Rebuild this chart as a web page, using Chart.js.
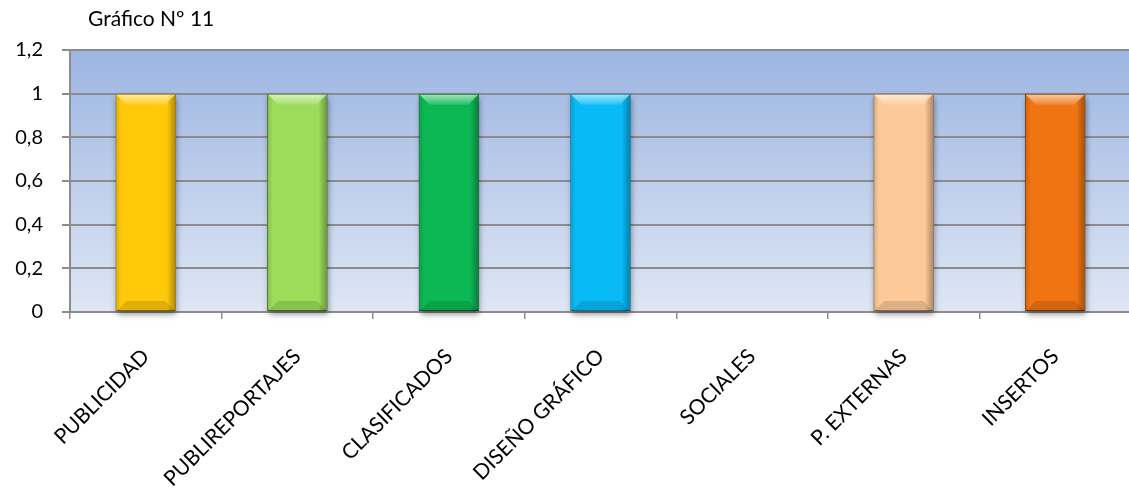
<!DOCTYPE html>
<html>
<head>
<meta charset="utf-8">
<script src="https://cdn.jsdelivr.net/npm/chart.js@4.4.1/dist/chart.umd.min.js"></script>
<style>
  html, body { margin: 0; padding: 0; background: #ffffff; overflow: hidden; }
  #wrap { position: absolute; left: 0; top: 0; width: 1131px; height: 497px; }
</style>
</head>
<body>
<div id="wrap"><canvas id="c"></canvas></div>
<script>
const chartTitle = 'Gráfico Nº 11';
const categories = ['PUBLICIDAD', 'PUBLIREPORTAJES', 'CLASIFICADOS', 'DISEÑO GRÁFICO', 'SOCIALES', 'P. EXTERNAS', 'INSERTOS'];
const values = [1, 1, 1, 1, 0, 1, 1];
const yMin = 0, yMax = 1.2, yStep = 0.2;

const barFill   = ['#FFC90A', '#9CDC5A', '#0CB853', '#08BBF7', '#8064A2', '#FDC998', '#F07412'];
const barBorder = ['#A07A00', '#4E7A2A', '#06602A', '#0680AE', '#4F3C66', '#9A7A60', '#7A3A06'];
const FONT = 'Lato, "Liberation Sans", sans-serif';

const bgPlugin = {
  id: 'bgPlugin',
  beforeDraw(chart) {
    const { ctx, chartArea: a } = chart;
    const g = ctx.createLinearGradient(0, a.top, 0, a.bottom);
    g.addColorStop(0, '#9CB5E2');
    g.addColorStop(1, '#DFE6F4');
    ctx.save();
    ctx.fillStyle = g;
    ctx.fillRect(a.left, a.top, a.right - a.left, a.bottom - a.top);
    ctx.restore();
  }
};

const shadowPlugin = {
  id: 'shadowPlugin',
  beforeDatasetsDraw(chart) {
    const { ctx } = chart;
    const meta = chart.getDatasetMeta(0);
    ctx.save();
    meta.data.forEach(el => {
      const h = el.base - el.y;
      if (h < 1) return;
      const l = el.x - el.width / 2;
      ctx.shadowColor = 'rgba(0,0,0,0.45)';
      ctx.shadowBlur = 6;
      ctx.shadowOffsetX = 1;
      ctx.shadowOffsetY = 3;
      ctx.fillStyle = 'rgba(120,120,120,1)';
      ctx.fillRect(l + 1, el.y + 1, el.width - 2, h - 1);
    });
    ctx.restore();
  }
};

const bevelPlugin = {
  id: 'bevelPlugin',
  afterDatasetsDraw(chart) {
    const { ctx } = chart;
    const meta = chart.getDatasetMeta(0);
    ctx.save();
    meta.data.forEach(el => {
      const h = el.base - el.y;
      if (h < 1) return;
      const l = el.x - el.width / 2 + 1, r = el.x + el.width / 2 - 1;
      const t = el.y + 1, b = el.base;
      const bv = 10;
      const hg = ctx.createLinearGradient(l, 0, r, 0);
      hg.addColorStop(0, 'rgba(0,0,0,0.12)');
      hg.addColorStop(0.08, 'rgba(0,0,0,0)');
      hg.addColorStop(0.86, 'rgba(0,0,0,0)');
      hg.addColorStop(1, 'rgba(0,0,0,0.30)');
      ctx.fillStyle = hg;
      ctx.fillRect(l, t, r - l, b - t);
      ctx.beginPath();
      ctx.moveTo(l, t); ctx.lineTo(r, t); ctx.lineTo(r - bv, t + bv); ctx.lineTo(l + bv, t + bv); ctx.closePath();
      const tg = ctx.createLinearGradient(0, t, 0, t + bv);
      tg.addColorStop(0, 'rgba(255,255,255,0.6)');
      tg.addColorStop(1, 'rgba(255,255,255,0.12)');
      ctx.fillStyle = tg;
      ctx.fill();
      ctx.beginPath();
      ctx.moveTo(l, b); ctx.lineTo(r, b); ctx.lineTo(r - bv, b - bv); ctx.lineTo(l + bv, b - bv); ctx.closePath();
      ctx.fillStyle = 'rgba(0,0,0,0.12)';
      ctx.fill();
    });
    ctx.restore();
  }
};

const titlePlugin = {
  id: 'titlePlugin',
  afterDraw(chart) {
    const { ctx } = chart;
    ctx.save();
    ctx.font = '21px ' + FONT;
    ctx.fillStyle = '#000';
    ctx.textBaseline = 'alphabetic';
    ctx.textAlign = 'left';
    ctx.fillText(chartTitle, 88, 26);
    ctx.restore();
  }
};

new Chart(document.getElementById('c'), {
  type: 'bar',
  data: {
    labels: categories,
    datasets: [{
      data: values,
      backgroundColor: barFill,
      borderColor: barBorder,
      borderWidth: 1,
      borderSkipped: false,
      categoryPercentage: 1,
      barPercentage: 0.40
    }]
  },
  options: {
    responsive: true,
    maintainAspectRatio: false,
    animation: false,
    layout: { padding: { top: 50, right: 0, left: 0, bottom: 0 } },
    plugins: { legend: { display: false }, tooltip: { enabled: false }, title: { display: false } },
    scales: {
      x: {
        grid: { offset: true, drawOnChartArea: false, drawTicks: true, tickLength: 7, color: '#8C8C8C', lineWidth: 1.5 },
        border: { color: '#8C8C8C', width: 2 },
        ticks: { color: '#000', font: { family: FONT, size: 21 }, minRotation: 45, maxRotation: 45, padding: 25, autoSkip: false },
        afterFit(s) { s.height = 185; }
      },
      y: {
        min: yMin, max: yMax,
        grid: { color: '#8C8C8C', lineWidth: 2, tickLength: 8, drawTicks: true },
        border: { color: '#8C8C8C', width: 2 },
        ticks: {
          stepSize: yStep, color: '#000', font: { family: FONT, size: 20 }, padding: 19,
          callback: v => (Math.round(v * 10) / 10).toString().replace('.', ',')
        },
        afterFit(s) { s.width = 70; }
      }
    }
  },
  plugins: [bgPlugin, shadowPlugin, bevelPlugin, titlePlugin]
});
</script>
</body>
</html>
